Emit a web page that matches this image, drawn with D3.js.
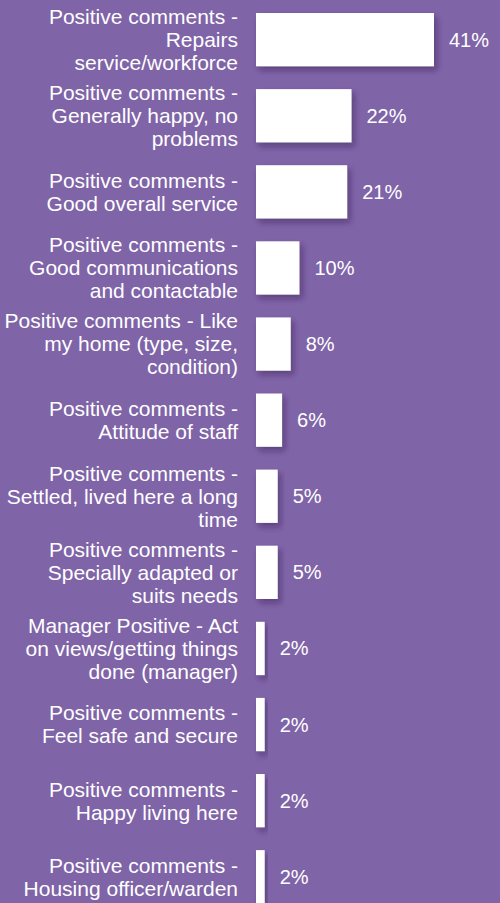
<!DOCTYPE html>
<html>
<head>
<meta charset="utf-8">
<script src="https://cdn.jsdelivr.net/npm/d3@7"></script>
<style>
  html, body { margin: 0; padding: 0; background: #8064a8; }
  .chart text { font-family: "Liberation Sans", Arial, sans-serif; fill: #ffffff; }
</style>
</head>
<body>
<div class="chart"></div>
<script>
var svgWidth = 500;
var svgHeight = 903;

// categories (each one already split into the lines shown)
var categories = [
  ["Positive comments -", "Repairs", "service/workforce"],
  ["Positive comments -", "Generally happy, no", "problems"],
  ["Positive comments -", "Good overall service"],
  ["Positive comments -", "Good communications", "and contactable"],
  ["Positive comments - Like", "my home (type, size,", "condition)"],
  ["Positive comments -", "Attitude of staff"],
  ["Positive comments -", "Settled, lived here a long", "time"],
  ["Positive comments -", "Specially adapted or", "suits needs"],
  ["Manager Positive - Act", "on views/getting things", "done (manager)"],
  ["Positive comments -", "Feel safe and secure"],
  ["Positive comments -", "Happy living here"],
  ["Positive comments -", "Housing officer/warden"]
];

// percentages
var values = [41, 22, 21, 10, 8, 6, 5, 5, 2, 2, 2, 2];

var labelRight = 238;
var barLeft = 256;
var lineHeight = 23;

var data = categories.map(function (c, i) {
  return { lines: c, value: values[i], key: i };
});

var svg = d3.select(".chart")
  .append("svg")
  .attr("width", svgWidth)
  .attr("height", svgHeight);

svg.append("rect")
  .attr("width", svgWidth)
  .attr("height", svgHeight)
  .attr("fill", "#8064a8");

// soft shadow under the bars
var filter = svg.append("defs").append("filter")
  .attr("id", "shadow")
  .attr("x", "-20%").attr("y", "-20%")
  .attr("width", "150%").attr("height", "150%");
filter.append("feDropShadow")
  .attr("dx", 3)
  .attr("dy", 4)
  .attr("stdDeviation", 3)
  .attr("flood-color", "#2a1a45")
  .attr("flood-opacity", 0.45);

var xScale = d3.scaleLinear()
  .domain([0, 41])
  .range([barLeft, 434]);

var yScale = d3.scaleBand()
  .domain(data.map(d => d.key))
  .range([1.6, 1.6 + 76.1 * 12])
  .paddingInner(0.3)
  .paddingOuter(0.15);

var rows = svg.selectAll("g.row")
  .data(data)
  .enter()
  .append("g")
  .attr("class", "row");

rows.append("rect")
  .attr("x", xScale(0))
  .attr("y", d => yScale(d.key))
  .attr("width", d => xScale(d.value) - xScale(0))
  .attr("height", yScale.bandwidth())
  .attr("fill", "#ffffff")
  .attr("filter", "url(#shadow)");

// value labels
rows.append("text")
  .attr("x", d => xScale(d.value) + 15)
  .attr("y", d => yScale(d.key) + yScale.bandwidth() / 2)
  .attr("dy", "0.35em")
  .attr("font-size", "20px")
  .text(d => d.value + "%");

// category labels, right aligned
var labels = rows.append("text")
  .attr("text-anchor", "end")
  .attr("font-size", "21px");

labels.selectAll("tspan")
  .data(d => d.lines.map(function (t, j) {
    var mid = yScale(d.key) + yScale.bandwidth() / 2;
    return { text: t, y: mid + (j - (d.lines.length - 1) / 2) * lineHeight };
  }))
  .enter()
  .append("tspan")
  .attr("x", labelRight)
  .attr("y", t => t.y)
  .attr("dy", "0.35em")
  .text(t => t.text);
</script>
</body>
</html>
